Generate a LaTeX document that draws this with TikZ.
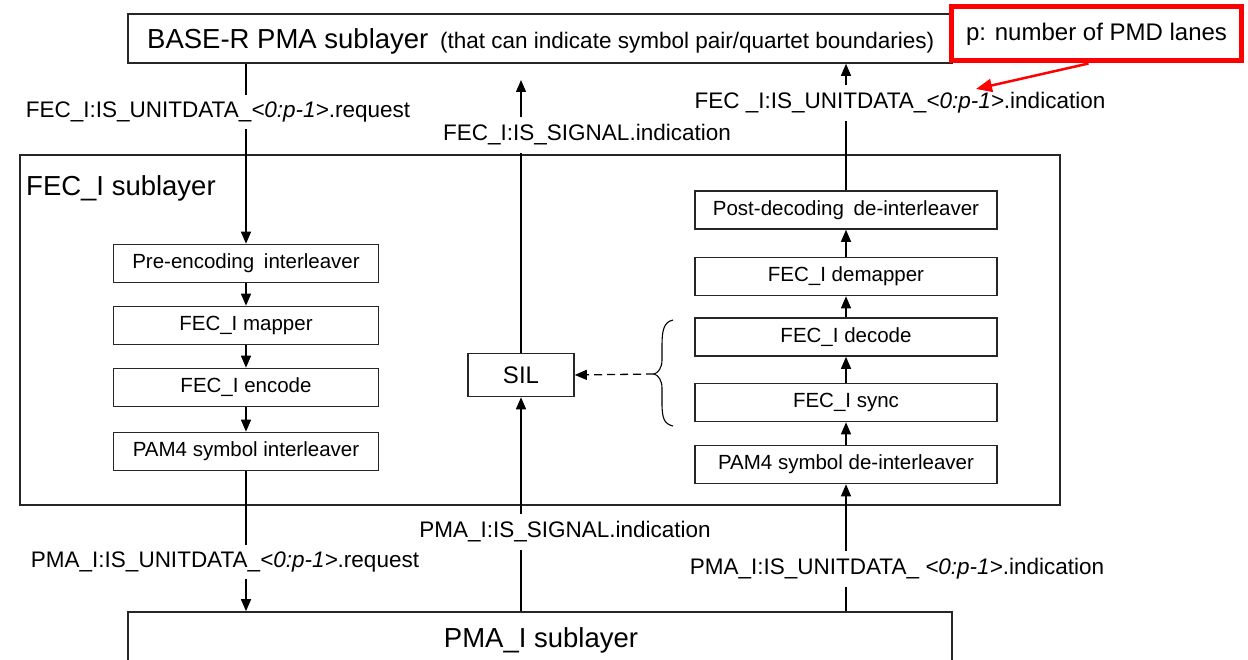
\documentclass[tikz,border=0pt]{standalone}
\usepackage{fontspec}
\setmainfont{Liberation Sans}
\usetikzlibrary{arrows.meta,decorations.pathreplacing}
\tikzset{
  frame/.style={draw=black!85,line width=1.6pt,inner sep=0pt},
  blk/.style={frame,minimum height=38pt,font=\fontsize{20.5}{22}\selectfont},
  lbl/.style={inner xsep=2pt,inner ysep=7pt,font=\fontsize{22.5}{25}\selectfont},
  big/.style={font=\fontsize{27.5}{30}\selectfont,inner sep=0pt},
  ln/.style={line width=1.3pt,draw=black},
  arr/.style={ln,-{Triangle[length=12pt,width=10pt]}},
}
\begin{document}
\begin{tikzpicture}[x=1pt,y=-1pt]
\useasboundingbox (0,0) rectangle (1248,660);
\clip (0,0) rectangle (1248,660);
\fill[white] (0,0) rectangle (1248,660);

% top PMA box
\node[frame,minimum width=824pt,minimum height=49pt] (base) at (540,38.5) {};
\node[big,anchor=base west] (basetxt) at (147,49) {BASE-R PMA sublayer};
\node[anchor=base west,inner sep=0pt,font=\fontsize{22.5}{25}\selectfont] (basenote) at (440,49) {(that can indicate symbol pair/quartet boundaries)};

% red note
\node[draw=red,line width=5pt,fill=white,minimum width=290pt,minimum height=54pt,inner sep=0pt,font=\fontsize{24}{26}\selectfont] (note) at (1096.5,34) {p: number of PMD lanes};

% FEC_I sublayer
\node[frame,minimum width=1040pt,minimum height=350pt] (fec) at (540,330) {};
\node[big,anchor=base west] (fectxt) at (26,196) {FEC\_I sublayer};

% PMA_I sublayer
\node[frame,minimum width=824pt,minimum height=60pt] (pma) at (540,642) {};
\node[big,anchor=base] (pmatxt) at (541,647) {PMA\_I sublayer};

% transmit column
\node[blk,minimum width=265pt] (pre) at (246,263.5) {Pre-encoding\hspace{0.2em} interleaver};
\node[blk,minimum width=265pt] (map) at (246,325.5) {FEC\_I mapper};
\node[blk,minimum width=265pt] (enc) at (246,387.5) {FEC\_I encode};
\node[blk,minimum width=265pt] (pam) at (246,451.5) {PAM4 symbol interleaver};

% receive column
\node[blk,minimum width=302pt] (post) at (846,210) {Post-decoding\hspace{0.2em} de-interleaver};
\node[blk,minimum width=302pt] (dem) at (846,276.5) {FEC\_I demapper};
\node[blk,minimum width=302pt] (dec) at (846,337) {FEC\_I decode};
\node[blk,minimum width=302pt] (sync) at (846,402.5) {FEC\_I sync};
\node[blk,minimum width=302pt] (pamd) at (846,464.5) {PAM4 symbol de-interleaver};

% SIL
\node[blk,minimum width=106pt,minimum height=43pt,font=\fontsize{24}{26}\selectfont] (sil) at (521,375) {SIL};

% labels
\node[lbl] (lreq) at (218,112) {FEC\_I:IS\_UNITDATA\_\textit{<0:p-1>}.request};
\node[lbl] (fsig) at (587,135) {FEC\_I:IS\_SIGNAL.indication};
\node[lbl] (find) at (900,103) {FEC \_I:IS\_UNITDATA\_\textit{<0:p-1>}.indication};
\node[lbl] (psig) at (565,532) {PMA\_I:IS\_SIGNAL.indication};
\node[lbl] (preq) at (225,562) {PMA\_I:IS\_UNITDATA\_\textit{<0:p-1>}.request};
\node[lbl] (pind) at (897,569) {PMA\_I:IS\_UNITDATA\_ \textit{<0:p-1>}.indication};

% transmit path
\draw[ln] (base.south -| pre.north) -- (lreq.north -| pre.north);
\draw[arr] (lreq.south -| pre.north) -- (pre.north);
\draw[arr] (pre) -- (map);
\draw[arr] (map) -- (enc);
\draw[arr] (enc) -- (pam);
\draw[ln] (pam.south) -- (preq.north -| pam.south);
\draw[arr] (preq.south -| pam.south) -- (pam.south |- pma.north);

% signal path
\coordinate (sigtip) at (521,80);
\draw[ln] (sil.north) -- (fsig.south -| sil.north);
\draw[arr] (fsig.north -| sil.north) -- (sigtip);
\draw[arr] (psig.north -| sil.south) -- (sil.south);
\draw[ln] (pma.north -| sil.south) -- (psig.south -| sil.south);

% receive path
\draw[ln] (post.north) -- (find.south -| post.north);
\draw[arr] (find.north -| post.north) -- (base.south -| post.north);
\draw[arr] (dem) -- (post);
\draw[arr] (dec) -- (dem);
\draw[arr] (sync) -- (dec);
\draw[arr] (pamd) -- (sync);
\draw[arr] (pind.north -| pamd.south) -- (pamd.south);
\draw[ln] (pma.north -| pamd.south) -- (pind.south -| pamd.south);

% brace and dashed arrow to SIL
\coordinate (btop) at (673,320);
\coordinate (bbot) at (673,426);
\coordinate (btip) at (654,374);
\draw[line width=1.1pt] (btop) .. controls (664,322) and (662,330) .. (662,345)
  -- (662,360) .. controls (662,368) and (658,373) .. (btip)
  .. controls (658,375) and (662,380) .. (662,388)
  -- (662,403) .. controls (662,418) and (664,424) .. (bbot);
\draw[ln,dash pattern=on 8pt off 5pt,-{Triangle[length=12pt,width=10pt]}] (btip) -- (sil.east);

% red pointer
\coordinate (rtip) at (976,89);
\draw[red,line width=2.5pt,-{Triangle[length=16pt,width=13pt]}] ([xshift=-8pt]note.south) -- (rtip);
\end{tikzpicture}
\end{document}
